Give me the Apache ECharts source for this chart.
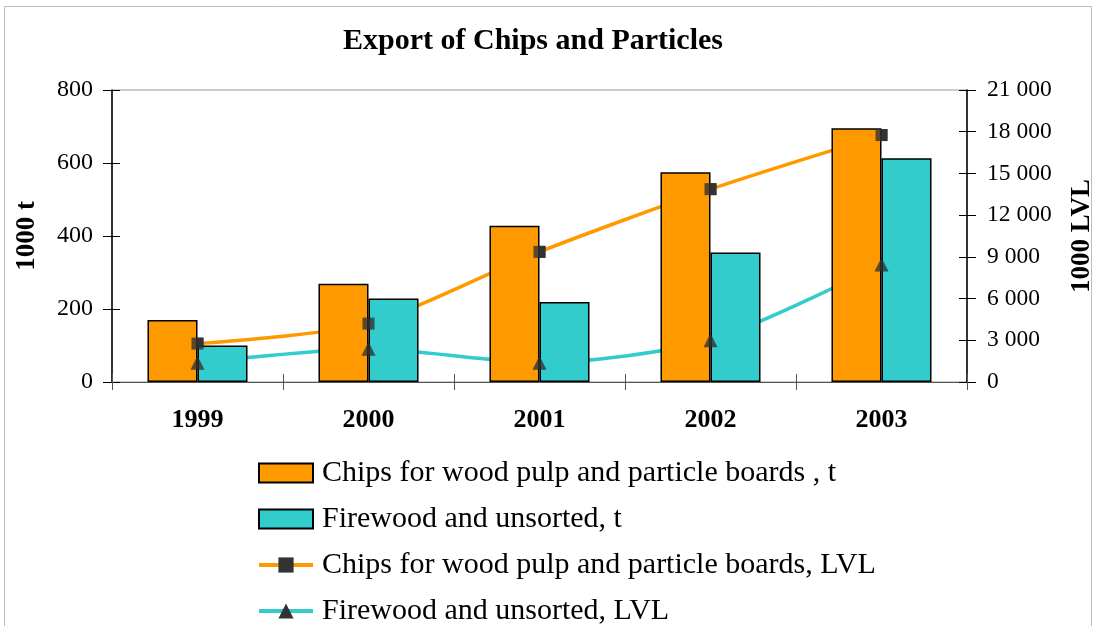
<!DOCTYPE html>
<html><head><meta charset="utf-8">
<script src="https://cdn.jsdelivr.net/npm/echarts@6/dist/echarts.min.js"></script>
<style>html,body{margin:0;padding:0;background:#fff}#c{width:1095px;height:626px}</style>
</head><body><div id="c"></div>
<script>
const years = ['1999','2000','2001','2002','2003'];
const chipsT = [170, 269, 428, 575, 695];
const fireT = [100, 229, 219, 355, 613];
const chipsLVL = [2760, 4200, 9360, 13870, 17760];
const fireLVL = [1390, 2400, 1390, 3000, 8450];
const leftTicks = {min: 0, max: 800, interval: 200};
const rightTicks = {min: 0, max: 21000, interval: 3000};
const names = ['Chips for wood pulp and particle boards , t','Firewood and unsorted, t','Chips for wood pulp and particle boards, LVL','Firewood and unsorted, LVL'];

const FONT = '"Liberation Serif", "Times New Roman", serif';
const fmt = v => String(v).replace(/\B(?=(\d{3})+(?!\d))/g, ' ');
const chart = echarts.init(document.getElementById('c'));
const orange = '#FF9900', teal = '#33CCCC', mark = '#333333';
chart.setOption({
  backgroundColor: '#fff',
  animation: false,
  textStyle: {fontFamily: FONT},
  title: {text: 'Export of Chips and Particles', left: 528, textAlign: 'center', top: 21,
    textStyle: {fontFamily: FONT, fontSize: 30, fontWeight: 'bold', color: '#000'}},
  grid: {left: 112, right: 128, top: 90, bottom: 244, show: true, borderColor: '#999', borderWidth: 1,
    containLabel: false, outerBoundsMode: 'none'},
  legend: {orient: 'vertical', left: 257, top: 458, height: 168, width: 700, padding: 0,
    itemWidth: 54, itemHeight: 19, itemGap: 16,
    lineStyle: {width: 4},
    data: [
      {name: names[0], icon: 'rect'},
      {name: names[1], icon: 'rect'},
      {name: names[2]},
      {name: names[3]}
    ],
    textStyle: {fontFamily: FONT, fontSize: 30, color: '#000', padding: [0, 0, 0, 4]}},
  xAxis: [
    {type: 'category', data: years, position: 'bottom',
     axisLine: {lineStyle: {color: '#555', width: 1}},
     axisTick: {show: true, length: 8, lineStyle: {color: '#555'}},
     axisLabel: {fontFamily: FONT, fontSize: 26, fontWeight: 'bold', color: '#000', margin: 25}},
    {type: 'category', data: years, position: 'bottom', gridIndex: 0,
     axisLine: {show: false}, axisTick: {show: true, inside: true, length: 8, lineStyle: {color: '#555'}},
     axisLabel: {show: false}}
  ],
  yAxis: [
    Object.assign({type: 'value', position: 'left', name: '1000 t', nameLocation: 'middle', nameGap: 71, nameRotate: 90,
     nameTextStyle: {fontFamily: FONT, fontSize: 27, fontWeight: 'bold', color: '#000'},
     axisLine: {show: true, lineStyle: {color: '#000', width: 1.5}},
     axisTick: {show: true, length: 9, lineStyle: {color: '#000'}},
     splitLine: {show: false},
     axisLabel: {fontFamily: FONT, fontSize: 24, color: '#000', margin: 19}}, leftTicks),
    Object.assign({type: 'value', position: 'right', name: '1000 LVL', nameLocation: 'middle', nameGap: 102, nameRotate: 90,
     nameTextStyle: {fontFamily: FONT, fontSize: 27, fontWeight: 'bold', color: '#000'},
     axisLine: {show: true, lineStyle: {color: '#000', width: 1.5}},
     axisTick: {show: true, length: 9, lineStyle: {color: '#000'}},
     splitLine: {show: false},
     axisLabel: {fontFamily: FONT, fontSize: 23.5, color: '#000', margin: 20, formatter: fmt}}, rightTicks),
    Object.assign({type: 'value', position: 'left', axisLine: {show: false}, splitLine: {show: false},
     axisTick: {show: true, inside: true, length: 8, lineStyle: {color: '#000'}}, axisLabel: {show: false}}, leftTicks),
    Object.assign({type: 'value', position: 'right', axisLine: {show: false}, splitLine: {show: false},
     axisTick: {show: true, inside: true, length: 8, lineStyle: {color: '#000'}}, axisLabel: {show: false}}, rightTicks)
  ],
  series: [
    {name: names[0], type: 'bar', yAxisIndex: 0, data: chipsT, barGap: '0%', barCategoryGap: '41.5%', z: 3,
     itemStyle: {color: orange, borderColor: '#000', borderWidth: 1.5}},
    {name: names[1], type: 'bar', yAxisIndex: 0, data: fireT, z: 3,
     itemStyle: {color: teal, borderColor: '#000', borderWidth: 1.5}},
    {name: names[2], type: 'line', yAxisIndex: 1, data: chipsLVL, smooth: 0.25, z: 1,
     symbol: 'rect', symbolSize: 12, lineStyle: {color: orange, width: 3.5},
     itemStyle: {color: mark}},
    {name: names[3], type: 'line', yAxisIndex: 1, data: fireLVL, smooth: 0.25, z: 1,
     symbol: 'triangle', symbolSize: 14, lineStyle: {color: teal, width: 3.5},
     itemStyle: {color: mark}},
    {name: 'm1', type: 'scatter', yAxisIndex: 1, data: chipsLVL, symbol: 'rect', symbolSize: 12, z: 6,
     itemStyle: {color: mark}},
    {name: 'm2', type: 'scatter', yAxisIndex: 1, data: fireLVL, symbol: 'triangle', symbolSize: 14, z: 6,
     itemStyle: {color: mark}}
  ],
  graphic: [{type: 'rect', shape: {x: 4.5, y: 6.5, width: 1087, height: 640}, style: {fill: null, stroke: '#bbb', lineWidth: 1}, silent: true}]
});
</script></body></html>
